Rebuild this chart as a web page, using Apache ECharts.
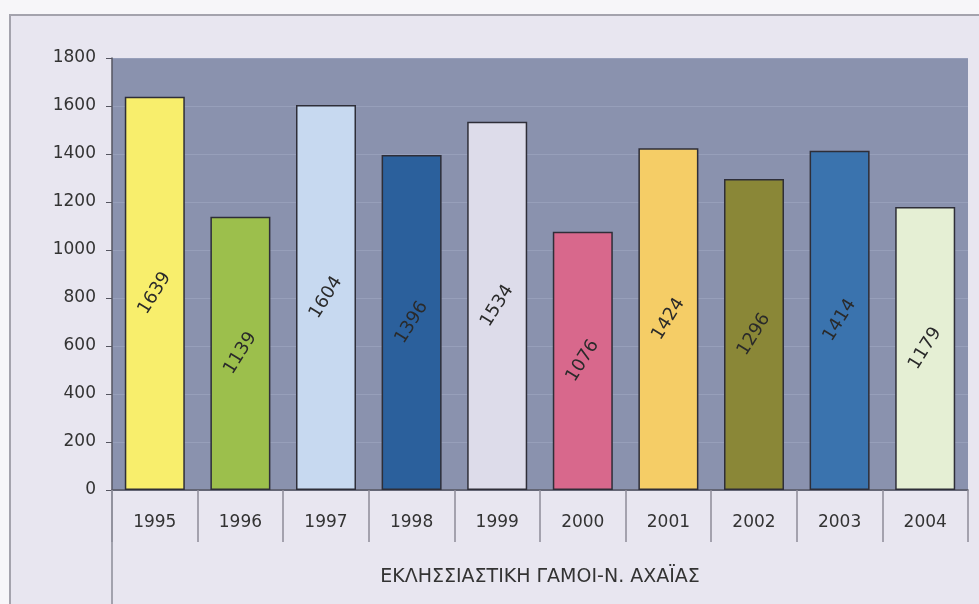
<!DOCTYPE html>
<html><head><meta charset="utf-8">
<script src="https://cdn.jsdelivr.net/npm/echarts@6/dist/echarts.min.js"></script>
<style>html,body{margin:0;padding:0;background:#f7f6f9;}#c{width:979px;height:604px;}</style>
</head><body><div id="c"></div>
<script>
const years = ['1995','1996','1997','1998','1999','2000','2001','2002','2003','2004'];
const values = [1639, 1139, 1604, 1396, 1534, 1076, 1424, 1296, 1414, 1179];
const barColors = ['#f8ee6c','#9cbf4c','#c7d9f0','#2b609c','#dddcea','#d8688c','#f5cd66','#8a8737','#3a73ae','#e5efd4'];
const yTicks = [0,200,400,600,800,1000,1200,1400,1600,1800];
const axisName = 'ΕΚΛΗΣΣΙΑΣΤΙΚΗ ΓΑΜΟΙ-Ν. ΑΧΑΪΑΣ';

const chart = echarts.init(document.getElementById('c'));
chart.setOption({
  backgroundColor: 'transparent',
  animation: false,
  textStyle: { fontFamily: 'DejaVu Sans, Arial, sans-serif' },
  graphic: [
    { type: 'rect', z: -10, shape: { x: 10, y: 15, width: 975, height: 600 },
      style: { fill: '#e8e6f0', stroke: '#a4a3ad', lineWidth: 2 } },
    { type: 'line', z: 10, shape: { x1: 112, y1: 490, x2: 112, y2: 604 },
      style: { stroke: '#8d8c98', lineWidth: 1.5 } }
  ],
  grid: { left: 112, right: 11, top: 58, bottom: 114, show: true,
          backgroundColor: '#8a92ae', borderWidth: 0 },
  xAxis: {
    type: 'category', data: years,
    axisLine: { show: true, lineStyle: { color: '#555560', width: 1.5 } },
    axisTick: { show: true, length: 52, lineStyle: { color: '#8d8c98', width: 1.5 } },
    axisLabel: { margin: 24, fontSize: 17, color: '#333' },
    name: axisName, nameLocation: 'middle', nameGap: 78,
    nameTextStyle: { fontSize: 19, color: '#333' }
  },
  yAxis: {
    type: 'value', min: 0, max: 1800, interval: 200,
    axisLine: { show: true, lineStyle: { color: '#555560', width: 1.5 } },
    axisTick: { show: true, length: 6, lineStyle: { color: '#555560' } },
    axisLabel: { margin: 16, fontSize: 17, color: '#333',
      formatter: v => yTicks.includes(v) ? String(v) : '' },
    splitLine: { show: true, lineStyle: { color: '#979fba', width: 1 } }
  },
  series: [{
    type: 'bar', barWidth: 60,
    data: values.map((v, i) => ({ value: v, itemStyle: { color: barColors[i] } })),
    itemStyle: { borderColor: '#2e2e38', borderWidth: 1.5 },
    label: { show: true, position: 'inside', rotate: 58, fontSize: 18,
             color: '#2a2a2a', formatter: p => String(p.value) }
  }]
});
</script></body></html>
